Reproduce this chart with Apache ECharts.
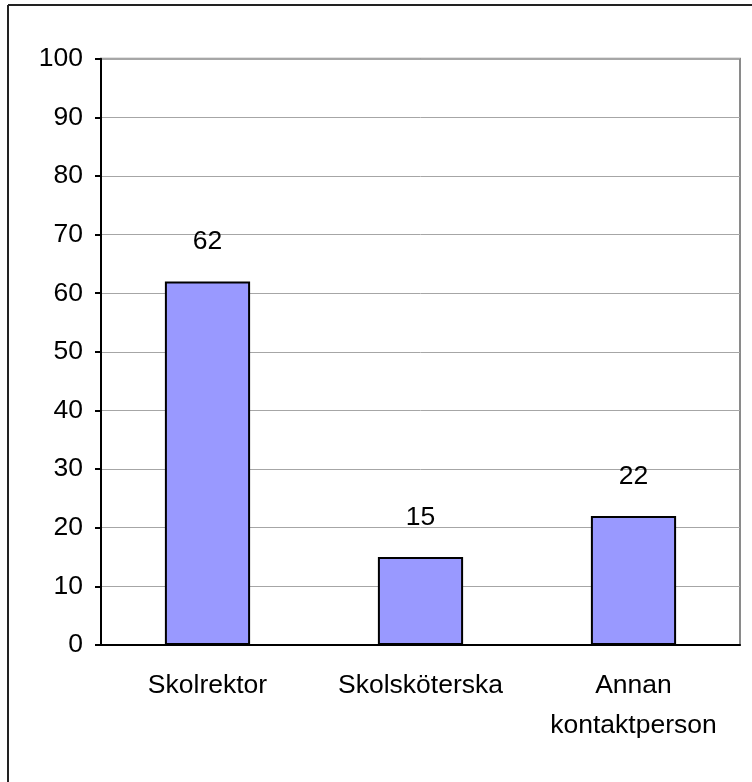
<!DOCTYPE html>
<html>
<head>
<meta charset="utf-8">
<script src="https://cdn.jsdelivr.net/npm/echarts@6/dist/echarts.min.js"></script>
<style>
html,body{margin:0;padding:0;background:#fff;}
#chart{width:752px;height:782px;}
</style>
</head>
<body>
<div id="chart"></div>
<script>
const categories = ['Skolrektor', 'Skolsköterska', 'Annan\nkontaktperson'];
const values = [62, 15, 22];
const yTicks = [0, 10, 20, 30, 40, 50, 60, 70, 80, 90, 100];

const chart = echarts.init(document.getElementById('chart'), null, {renderer: 'canvas'});
const font = 'Liberation Sans, Arial, sans-serif';
chart.setOption({
  animation: false,
  backgroundColor: '#ffffff',
  grid: {
    left: 101, right: 12, top: 58.7, bottom: 137,
    show: true, borderColor: '#8a8a8a', borderWidth: 2, backgroundColor: 'transparent'
  },
  graphic: [
    {type: 'line', shape: {x1: 8, y1: 5, x2: 8, y2: 782}, style: {stroke: '#222', lineWidth: 2}},
    {type: 'line', shape: {x1: 8, y1: 5, x2: 752, y2: 5}, style: {stroke: '#222', lineWidth: 2}}
  ],
  xAxis: {
    type: 'category',
    data: categories,
    axisLine: {show: true, lineStyle: {color: '#000', width: 2}},
    axisTick: {show: false},
    axisLabel: {
      color: '#000', fontFamily: font, fontSize: 26.5, lineHeight: 40,
      margin: 21, verticalAlign: 'top', interval: 0
    },
    splitLine: {show: false}
  },
  yAxis: {
    type: 'value',
    min: yTicks[0], max: yTicks[yTicks.length - 1], interval: 10,
    axisLine: {show: true, lineStyle: {color: '#000', width: 2}},
    axisTick: {show: true, length: 6, lineStyle: {color: '#000', width: 2}},
    axisLabel: {color: '#000', fontFamily: font, fontSize: 26.5, margin: 18},
    splitLine: {show: true, lineStyle: {color: '#a6a6a6', width: 1}}
  },
  series: [{
    type: 'bar',
    data: values,
    barWidth: '40%',
    itemStyle: {color: '#9999ff', borderColor: '#000', borderWidth: 2},
    label: {
      show: true, position: 'top', distance: 26,
      color: '#000', fontFamily: font, fontSize: 26.5
    }
  }]
});
</script>
</body>
</html>
